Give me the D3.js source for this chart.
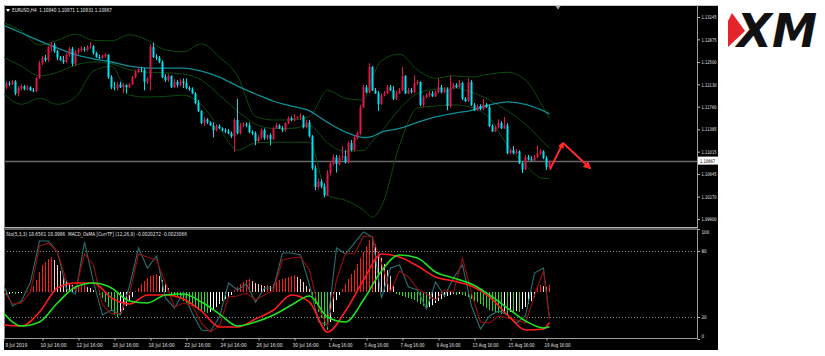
<!DOCTYPE html>
<html><head><meta charset="utf-8">
<script src="https://cdn.jsdelivr.net/npm/d3@7"></script>
<style>html,body{margin:0;padding:0;background:#fff;}svg{display:block;font-family:"DejaVu Sans",sans-serif;}text{white-space:pre;}</style>
</head><body><svg id="c" width="825" height="356"></svg>
<script>
// ---------------- DATA ----------------
const symbolHeader = "EURUSD,H4  1.10840 1.10871 1.10831 1.10867";
const subHeader = "Sto(5,3,3) 18.6561 18.0986  MACD_OsMA [CurrTF] (12,26,9) -0.0020272 -0.0023066";
const lastPrice = 1.10867;
const priceTicks = [1.13245,1.12875,1.12500,1.12130,1.11760,1.11385,1.11015,1.10645,1.10270,1.09900];
const stochTicks = [100,80,20,0];
const stochLevels = [80,20];
const dateTickBars = [0,13,25,37,49,61,73,85,97,109,121,133,145,157,169,181];
const dateLabels = ["8 Jul 2019","10 Jul 16:00","12 Jul 16:00","16 Jul 16:00","18 Jul 16:00","22 Jul 16:00","24 Jul 16:00","26 Jul 16:00","30 Jul 16:00","1 Aug 16:00","5 Aug 16:00","7 Aug 16:00","9 Aug 16:00","13 Aug 16:00","15 Aug 16:00","19 Aug 16:00"];

const open = [1.1223,1.1208,1.1215,1.1213,1.1218,1.1198,1.1207,1.1210,1.1205,1.1208,
1.1203,1.1202,1.1223,1.1248,1.1257,1.1253,1.1275,1.1278,1.1268,1.1257,
1.1253,1.1250,1.1262,1.1272,1.1247,1.1267,1.1270,1.1272,1.1270,1.1275,
1.1276,1.1265,1.1258,1.1257,1.1260,1.1262,1.1225,1.1208,1.1207,1.1213,
1.1208,1.1212,1.1208,1.1213,1.1225,1.1233,1.1238,1.1237,1.1217,1.1223,
1.1275,1.1258,1.1257,1.1250,1.1225,1.1220,1.1227,1.1208,1.1217,1.1212,
1.1218,1.1215,1.1207,1.1205,1.1198,1.1182,1.1169,1.1149,1.1155,1.1150,
1.1145,1.1137,1.1144,1.1140,1.1137,1.1135,1.1132,1.1127,1.1154,1.1132,
1.1145,1.1147,1.1145,1.1134,1.1132,1.1119,1.1125,1.1137,1.1124,1.1129,
1.1122,1.1140,1.1145,1.1140,1.1137,1.1149,1.1157,1.1154,1.1157,1.1159,
1.1160,1.1142,1.1150,1.1127,1.1074,1.1043,1.1052,1.1044,1.1029,1.1066,
1.1082,1.1092,1.1081,1.1092,1.1094,1.1084,1.1116,1.1104,1.1125,1.1132,
1.1175,1.1208,1.1200,1.1242,1.1203,1.1198,1.1180,1.1195,1.1198,1.1208,
1.1203,1.1189,1.1198,1.1203,1.1227,1.1198,1.1203,1.1200,1.1215,1.1217,
1.1179,1.1192,1.1195,1.1198,1.1193,1.1200,1.1208,1.1200,1.1205,1.1177,
1.1207,1.1212,1.1208,1.1215,1.1189,1.1185,1.1217,1.1179,1.1170,1.1177,
1.1172,1.1179,1.1175,1.1144,1.1135,1.1142,1.1149,1.1140,1.1145,1.1099,
1.1104,1.1099,1.1102,1.1082,1.1072,1.1092,1.1089,1.1087,1.1092,1.1099,
1.1102,1.1091,1.1076];
const high = [1.1227,1.1218,1.1218,1.1220,1.1220,1.1210,1.1213,1.1212,1.1212,1.1210,
1.1207,1.1225,1.1252,1.1260,1.1262,1.1276,1.1283,1.1282,1.1270,1.1260,
1.1260,1.1265,1.1275,1.1275,1.1270,1.1273,1.1276,1.1275,1.1278,1.1283,
1.1278,1.1267,1.1262,1.1262,1.1265,1.1263,1.1228,1.1217,1.1217,1.1217,
1.1215,1.1213,1.1215,1.1227,1.1237,1.1242,1.1242,1.1240,1.1225,1.1280,
1.1282,1.1263,1.1260,1.1253,1.1230,1.1230,1.1228,1.1222,1.1220,1.1222,
1.1223,1.1223,1.1210,1.1208,1.1200,1.1187,1.1170,1.1159,1.1157,1.1152,
1.1150,1.1147,1.1147,1.1142,1.1140,1.1139,1.1135,1.1157,1.1189,1.1149,
1.1150,1.1150,1.1150,1.1137,1.1135,1.1129,1.1140,1.1140,1.1130,1.1132,
1.1142,1.1149,1.1147,1.1144,1.1150,1.1160,1.1160,1.1164,1.1160,1.1165,
1.1162,1.1154,1.1154,1.1129,1.1079,1.1057,1.1056,1.1049,1.1071,1.1086,
1.1097,1.1096,1.1096,1.1111,1.1104,1.1119,1.1121,1.1129,1.1135,1.1179,
1.1212,1.1212,1.1248,1.1243,1.1207,1.1202,1.1198,1.1202,1.1212,1.1212,
1.1210,1.1202,1.1207,1.1242,1.1228,1.1207,1.1207,1.1228,1.1220,1.1218,
1.1195,1.1198,1.1202,1.1202,1.1203,1.1223,1.1212,1.1208,1.1208,1.1228,
1.1215,1.1215,1.1220,1.1217,1.1192,1.1223,1.1220,1.1182,1.1180,1.1180,
1.1189,1.1182,1.1179,1.1147,1.1145,1.1155,1.1152,1.1159,1.1149,1.1107,
1.1111,1.1106,1.1104,1.1086,1.1096,1.1096,1.1094,1.1096,1.1112,1.1106,
1.1104,1.1094,1.1087];
const low = [1.1207,1.1205,1.1210,1.1212,1.1195,1.1193,1.1203,1.1203,1.1203,1.1202,
1.1200,1.1200,1.1222,1.1245,1.1250,1.1250,1.1267,1.1265,1.1253,1.1252,
1.1247,1.1248,1.1258,1.1243,1.1243,1.1263,1.1267,1.1267,1.1268,1.1272,
1.1262,1.1257,1.1255,1.1255,1.1257,1.1222,1.1205,1.1203,1.1203,1.1207,
1.1198,1.1198,1.1207,1.1212,1.1223,1.1232,1.1233,1.1203,1.1213,1.1203,
1.1257,1.1253,1.1248,1.1223,1.1217,1.1217,1.1207,1.1207,1.1208,1.1210,
1.1207,1.1205,1.1202,1.1197,1.1180,1.1167,1.1147,1.1144,1.1147,1.1144,
1.1125,1.1135,1.1139,1.1135,1.1132,1.1130,1.1124,1.1101,1.1130,1.1130,
1.1142,1.1142,1.1132,1.1129,1.1112,1.1117,1.1122,1.1121,1.1121,1.1112,
1.1121,1.1139,1.1139,1.1134,1.1135,1.1147,1.1152,1.1152,1.1155,1.1154,
1.1140,1.1140,1.1125,1.1071,1.1038,1.1039,1.1041,1.1026,1.1028,1.1062,
1.1079,1.1067,1.1079,1.1087,1.1082,1.1082,1.1102,1.1102,1.1122,1.1129,
1.1174,1.1198,1.1198,1.1202,1.1197,1.1169,1.1179,1.1193,1.1197,1.1202,
1.1187,1.1187,1.1197,1.1202,1.1197,1.1197,1.1198,1.1198,1.1212,1.1177,
1.1175,1.1190,1.1192,1.1192,1.1192,1.1198,1.1198,1.1198,1.1170,1.1174,
1.1205,1.1207,1.1207,1.1187,1.1184,1.1184,1.1177,1.1169,1.1169,1.1170,
1.1170,1.1174,1.1142,1.1134,1.1134,1.1140,1.1139,1.1139,1.1097,1.1097,
1.1097,1.1097,1.1081,1.1066,1.1071,1.1087,1.1086,1.1086,1.1091,1.1096,
1.1089,1.1071,1.1074];
const close = [1.1208,1.1215,1.1213,1.1218,1.1198,1.1207,1.1210,1.1205,1.1208,1.1203,
1.1202,1.1223,1.1248,1.1257,1.1253,1.1275,1.1278,1.1268,1.1257,1.1253,
1.1250,1.1262,1.1272,1.1247,1.1267,1.1270,1.1272,1.1270,1.1275,1.1276,
1.1265,1.1258,1.1257,1.1260,1.1262,1.1225,1.1208,1.1207,1.1213,1.1208,
1.1212,1.1208,1.1213,1.1225,1.1233,1.1238,1.1237,1.1217,1.1223,1.1275,
1.1258,1.1257,1.1250,1.1225,1.1220,1.1227,1.1208,1.1217,1.1212,1.1218,
1.1215,1.1207,1.1205,1.1198,1.1182,1.1169,1.1149,1.1155,1.1150,1.1145,
1.1137,1.1144,1.1140,1.1137,1.1135,1.1132,1.1127,1.1154,1.1132,1.1145,
1.1147,1.1145,1.1134,1.1132,1.1119,1.1125,1.1137,1.1124,1.1129,1.1122,
1.1140,1.1145,1.1140,1.1137,1.1149,1.1157,1.1154,1.1157,1.1159,1.1160,
1.1142,1.1150,1.1127,1.1074,1.1043,1.1052,1.1044,1.1029,1.1066,1.1082,
1.1092,1.1081,1.1092,1.1094,1.1084,1.1116,1.1104,1.1125,1.1132,1.1175,
1.1208,1.1200,1.1242,1.1203,1.1198,1.1180,1.1195,1.1198,1.1208,1.1203,
1.1189,1.1198,1.1203,1.1227,1.1198,1.1203,1.1200,1.1215,1.1217,1.1179,
1.1192,1.1195,1.1198,1.1193,1.1200,1.1208,1.1200,1.1205,1.1177,1.1207,
1.1212,1.1208,1.1215,1.1189,1.1185,1.1217,1.1179,1.1170,1.1177,1.1172,
1.1179,1.1175,1.1144,1.1135,1.1142,1.1149,1.1140,1.1145,1.1099,1.1104,
1.1099,1.1102,1.1082,1.1072,1.1092,1.1089,1.1087,1.1092,1.1099,1.1102,
1.1091,1.1076,1.10867];

// Bollinger bands + moving average, read at these bar indices
const bandBars = [0,6,12,18,24,30,36,42,48,54,60,66,72,78,84,90,96,102,108,114,120,123,126,132,138,144,150,156,162,168,174,180,182];
const bbUpper = [1.1315,1.1301,1.1278,1.1286,1.1296,1.1286,1.1285,1.1295,1.1286,1.1270,1.1267,1.1280,1.1258,1.1227,1.1160,1.1154,1.1154,1.1160,1.1203,1.1190,1.1187,1.1225,1.1252,1.1263,1.1237,1.1223,1.1227,1.1225,1.1230,1.1233,1.1220,1.1174,1.1157];
const bbMiddle = [1.1258,1.1243,1.1227,1.1233,1.1245,1.1250,1.1247,1.1237,1.1233,1.1232,1.1230,1.1220,1.1195,1.1169,1.1147,1.1140,1.1140,1.1145,1.1116,1.1102,1.1104,1.1119,1.1135,1.1172,1.1198,1.1205,1.1207,1.1200,1.1187,1.1169,1.1147,1.1117,1.1107];
const bbLower = [1.1198,1.1180,1.1190,1.1180,1.1192,1.1235,1.1243,1.1195,1.1192,1.1193,1.1195,1.1179,1.1140,1.1104,1.1116,1.1117,1.1117,1.1117,1.1029,1.1021,1.1005,1.0993,1.1011,1.1112,1.1174,1.1177,1.1179,1.1175,1.1157,1.1112,1.1079,1.1057,1.1057];
const maLine = [1.1311,1.1298,1.1285,1.1273,1.1262,1.1255,1.1250,1.1243,1.1240,1.1240,1.1240,1.1235,1.1225,1.1210,1.1197,1.1185,1.1177,1.1169,1.1150,1.1134,1.1125,1.1127,1.1134,1.1140,1.1150,1.1159,1.1165,1.1170,1.1179,1.1184,1.1180,1.1169,1.1164];

// forecast arrow [bar, price]
const arrowPts = [[182.3,1.1072],[186.7,1.1116],[195.7,1.1074]];

// Stochastic (read every 3 bars, plus last bar)
const stochBars = d3.range(0,181,3).concat([182]);
const stochK = [49.1,30.0,34.5,51.8,89.1,89.1,79.1,45.5,40.9,88.2,51.8,21.8,26.4,21.8,48.2,82.7,64.5,75.5,37.3,28.2,42.7,22.7,8.2,7.3,20.0,50.9,44.5,50.0,33.6,46.4,46.4,78.2,78.2,76.4,49.1,15.5,12.7,82.7,77.3,87.3,97.3,92.7,37.3,64.5,67.3,47.3,44.5,27.3,51.8,39.1,55.5,67.3,30.0,9.1,20.9,25.5,21.8,14.5,20.9,60.0,64.5,18.7];
const stochD = [43.6,31.8,32.7,42.7,84.5,87.3,79.1,52.7,44.5,77.3,67.3,30.9,22.7,23.6,40.9,77.3,74.5,71.8,50.9,29.1,32.7,30.0,14.5,6.4,11.8,38.2,39.1,41.8,35.5,40.0,44.5,71.8,73.6,74.5,62.7,28.2,11.8,53.6,78.2,77.3,93.6,92.7,69.1,42.7,61.8,56.4,45.5,40.9,35.5,44.5,42.7,73.6,41.8,15.5,14.5,20.9,19.1,17.3,14.5,40.0,61.8,18.1];

// MACD main / signal (read every 6 bars, plus last bar)
const macdBars = d3.range(0,181,6).concat([182]);
const macdMain = [-0.00220,-0.00227,-0.00133,0.00027,0.00060,0.00060,-0.00040,-0.00080,-0.00020,-0.00020,-0.00047,-0.00127,-0.00233,-0.00233,-0.00180,-0.00120,-0.00020,-0.00067,-0.00267,-0.00127,0.00080,0.00253,0.00233,0.00173,0.00100,0.00073,0.00040,-0.00033,-0.00153,-0.00253,-0.00247,-0.00203];
const macdSignal = [-0.00140,-0.00227,-0.00200,-0.00073,0.00033,0.00060,0.00027,-0.00060,-0.00073,-0.00020,-0.00013,-0.00067,-0.00147,-0.00227,-0.00200,-0.00153,-0.00087,-0.00027,-0.00167,-0.00200,-0.00053,0.00140,0.00247,0.00227,0.00133,0.00093,0.00053,-0.00020,-0.00107,-0.00193,-0.00240,-0.00231];

// OsMA histogram, one per bar
const osma = [-0.00013,-0.00020,-0.00013,-0.00007,-0.00013,-0.00007,-0.00007,0.00003,0.00007,0.00020,
0.00040,0.00080,0.00133,0.00180,0.00200,0.00220,0.00233,0.00213,0.00180,0.00140,
0.00107,0.00080,0.00060,0.00047,0.00040,0.00043,0.00047,0.00048,0.00033,0.00027,
0.00013,-0.00007,-0.00020,-0.00040,-0.00067,-0.00100,-0.00127,-0.00153,-0.00167,-0.00147,
-0.00120,-0.00093,-0.00060,-0.00033,0.00007,0.00027,0.00053,0.00073,0.00093,0.00107,
0.00113,0.00120,0.00107,0.00080,0.00053,0.00027,-0.00013,-0.00027,-0.00033,-0.00047,
-0.00060,-0.00073,-0.00080,-0.00093,-0.00107,-0.00120,-0.00127,-0.00133,-0.00140,-0.00133,
-0.00120,-0.00100,-0.00080,-0.00060,-0.00047,-0.00033,-0.00020,0.00013,0.00033,0.00053,
0.00067,0.00080,0.00087,0.00073,0.00060,0.00053,0.00047,0.00040,0.00047,0.00040,
0.00053,0.00067,0.00080,0.00087,0.00093,0.00100,0.00107,0.00113,0.00100,0.00087,
0.00067,0.00040,0.00020,-0.00027,-0.00080,-0.00133,-0.00173,-0.00227,-0.00253,-0.00200,
-0.00133,-0.00053,-0.00020,0.00020,0.00053,0.00087,0.00120,0.00147,0.00187,0.00227,
0.00267,0.00307,0.00347,0.00373,0.00320,0.00267,0.00227,0.00187,0.00147,0.00107,
0.00040,-0.00013,-0.00020,-0.00027,-0.00033,-0.00040,-0.00047,-0.00053,-0.00067,-0.00080,
-0.00093,-0.00107,-0.00100,-0.00087,-0.00073,-0.00060,-0.00047,-0.00033,-0.00027,-0.00020,
-0.00013,-0.00020,-0.00013,-0.00020,-0.00027,-0.00033,-0.00047,-0.00060,-0.00067,-0.00080,
-0.00093,-0.00107,-0.00120,-0.00127,-0.00133,-0.00140,-0.00147,-0.00140,-0.00147,-0.00133,
-0.00140,-0.00127,-0.00133,-0.00113,-0.00100,-0.00080,-0.00060,-0.00033,0.00040,0.00047,
0.00040,0.00033,0.00047];

// ---------------- STYLE ----------------
const C = {
  bull:"#e0164a", bear:"#00e1ee", bb:"#0b4a0e", ma:"#0f8d97",
  stK:"#2b6e70", stD:"#9a0c0c", macd:"#ff1c1c", sig:"#1fe11f",
  hUpR:"#ff1a1a", hUpF:"#ffc4cc", hDnF:"#22dd22", hDnR:"#ffffff",
  text:"#e6e6e6", frame:"#9a9a9a"
};

// ---------------- DRAW ----------------
const svg = d3.select("#c");
const L = 4, R = 697, mainTop = 6, mainBot = 227, subTop = 230, subBot = 338;

svg.append("rect").attr("width",825).attr("height",356).attr("fill","#fff");
svg.append("rect").attr("x",4).attr("y",5).attr("width",714).attr("height",345).attr("fill","#000");

const x = d3.scaleLinear().domain([0,1]).range([3,6]);
const yP = d3.scaleLinear().domain([1.09900,1.13245]).range([219,17]);
const yS = d3.scaleLinear().domain([0,100]).range([339,229]);
const yM = d3.scaleLinear().domain([0,0.001]).range([292,277]);

const defs = svg.append("defs");
defs.append("clipPath").attr("id","cm").append("rect").attr("x",L).attr("y",mainTop).attr("width",R-L).attr("height",mainBot-mainTop);
defs.append("clipPath").attr("id","cs").append("rect").attr("x",L).attr("y",subTop).attr("width",R-L).attr("height",subBot-subTop);
defs.append("marker").attr("id","ah1").attr("viewBox","0 0 10 10").attr("refX",8).attr("refY",5)
  .attr("markerWidth",3.2).attr("markerHeight",3.2).attr("orient","auto")
  .append("path").attr("d","M0,0 L10,5 L0,10 z").attr("fill","#ff2b2b");
defs.append("marker").attr("id","ah2").attr("viewBox","0 0 10 10").attr("refX",8).attr("refY",5)
  .attr("markerWidth",4.2).attr("markerHeight",4).attr("orient","auto")
  .append("path").attr("d","M0,0 L10,5 L0,10 z").attr("fill","#ff2b2b");

// frame lines
svg.append("line").attr("x1",4).attr("x2",718).attr("y1",5.5).attr("y2",5.5).attr("stroke","#c8c8c8");
svg.append("line").attr("x1",4.5).attr("x2",4.5).attr("y1",5).attr("y2",339).attr("stroke","#8a8a8a");
svg.append("line").attr("x1",R+0.5).attr("x2",R+0.5).attr("y1",5).attr("y2",subBot+0.5).attr("stroke",C.frame);
svg.append("rect").attr("x",4).attr("y",227).attr("width",R-4+1).attr("height",3).attr("fill","#5c5c5c");
svg.append("line").attr("x1",4).attr("x2",R+1).attr("y1",227.5).attr("y2",227.5).attr("stroke","#b0b0b0");
svg.append("line").attr("x1",4).attr("x2",R+1).attr("y1",subBot+0.5).attr("y2",subBot+0.5).attr("stroke",C.frame);

// ---- main pane ----
const gm = svg.append("g").attr("clip-path","url(#cm)");

// current price line
gm.append("line").attr("x1",L).attr("x2",R).attr("y1",Math.round(yP(lastPrice))+0.5).attr("y2",Math.round(yP(lastPrice))+0.5)
  .attr("stroke","#6a6a6a").attr("stroke-width",1.4);

const pts = arr => bandBars.map((b,i)=>[b,arr[i]]);
const lineP = d3.line().x(d=>x(d[0])+0.5).y(d=>yP(d[1])).curve(d3.curveMonotoneX);
[bbUpper,bbMiddle,bbLower].forEach(a=>{
  gm.append("path").attr("d",lineP(pts(a))).attr("fill","none").attr("stroke",C.bb).attr("stroke-width",1);
});
gm.append("path").attr("d",lineP(pts(maLine))).attr("fill","none").attr("stroke",C.ma).attr("stroke-width",1.3);

const candles = close.map((c,i)=>({i,o:open[i],h:high[i],l:low[i],c}));
const col = d=> d.c>=d.o ? C.bull : C.bear;
gm.selectAll("rect.wick").data(candles).join("rect").attr("class","wick")
  .attr("x",d=>x(d.i)).attr("width",1)
  .attr("y",d=>yP(d.h)).attr("height",d=>Math.max(1,yP(d.l)-yP(d.h))).attr("fill",col);
gm.selectAll("rect.body").data(candles).join("rect").attr("class","body")
  .attr("x",d=>x(d.i)-0.5).attr("width",2)
  .attr("y",d=>Math.min(yP(d.o),yP(d.c))).attr("height",d=>Math.max(1,Math.abs(yP(d.o)-yP(d.c)))).attr("fill",col);

// forecast arrows
const ap = arrowPts.map(p=>[x(p[0]),yP(p[1])]);
gm.append("line").attr("x1",ap[0][0]).attr("y1",ap[0][1]).attr("x2",ap[1][0]).attr("y2",ap[1][1])
  .attr("stroke","#ff2b2b").attr("stroke-width",2).attr("marker-end","url(#ah1)");
gm.append("line").attr("x1",ap[1][0]).attr("y1",ap[1][1]).attr("x2",ap[2][0]).attr("y2",ap[2][1])
  .attr("stroke","#ff2b2b").attr("stroke-width",2).attr("marker-end","url(#ah2)");

// shift marker
const sx = x(185);
svg.append("path").attr("d",`M${sx-2.5},6 L${sx+2.5},6 L${sx},9.5 Z`).attr("fill","#9aa4b0");

// header
svg.append("path").attr("d","M6,9 L10,9 L8,12 Z").attr("fill","#fff");
svg.append("text").attr("x",12).attr("y",12.2).attr("font-size",5.6).attr("fill",C.text)
  .attr("textLength",100).attr("lengthAdjust","spacingAndGlyphs").text(symbolHeader);

// price axis
const pa = svg.append("g").attr("transform",`translate(${R+0.5},0)`)
  .call(d3.axisRight(yP).tickValues(priceTicks).tickFormat(d3.format(".5f")).tickSize(2.5).tickPadding(1.5));
pa.attr("font-size",5.2).attr("font-family","DejaVu Sans, sans-serif");
pa.select(".domain").remove();
pa.selectAll("line").attr("stroke","#bbb");
pa.selectAll("text").attr("fill",C.text).attr("textLength",15).attr("lengthAdjust","spacingAndGlyphs");

// current price tag
const ly = yP(lastPrice);
svg.append("rect").attr("x",R+1).attr("y",ly-4).attr("width",20).attr("height",8).attr("fill","#fff");
svg.append("text").attr("x",R+3).attr("y",ly+2).attr("font-size",5.2).attr("fill","#000")
  .attr("textLength",15).attr("lengthAdjust","spacingAndGlyphs").text(d3.format(".5f")(lastPrice));

// ---- sub pane ----
const gs = svg.append("g").attr("clip-path","url(#cs)");
stochLevels.forEach(v=>{
  gs.append("line").attr("x1",L).attr("x2",R).attr("y1",Math.round(yS(v))+0.5).attr("y2",Math.round(yS(v))+0.5)
    .attr("stroke","#8c8c8c").attr("stroke-dasharray","1,2");
});
const hcol = (v,i)=>{
  const p = i>0 ? osma[i-1] : v;
  if (v>=0) return v>p ? C.hUpR : C.hUpF;
  return v<p ? C.hDnF : C.hDnR;
};
gs.selectAll("rect.h").data(osma).join("rect").attr("class","h")
  .attr("x",(d,i)=>x(i)).attr("width",1)
  .attr("y",d=>Math.min(yM(0),yM(d))).attr("height",d=>Math.max(0.5,Math.abs(yM(d)-yM(0))))
  .attr("fill",(d,i)=>hcol(d,i));

const lineS = d3.line().x(d=>x(d[0])+0.5).y(d=>yS(d[1]));
gs.append("path").attr("d",lineS(stochBars.map((b,i)=>[b,stochK[i]]))).attr("fill","none").attr("stroke",C.stK).attr("stroke-width",1.1);
gs.append("path").attr("d",lineS(stochBars.map((b,i)=>[b,stochD[i]]))).attr("fill","none").attr("stroke",C.stD).attr("stroke-width",1.1);
const lineM = d3.line().x(d=>x(d[0])+0.5).y(d=>yM(d[1])).curve(d3.curveMonotoneX);
gs.append("path").attr("d",lineM(macdBars.map((b,i)=>[b,macdMain[i]]))).attr("fill","none").attr("stroke",C.macd).attr("stroke-width",1.6);
gs.append("path").attr("d",lineM(macdBars.map((b,i)=>[b,macdSignal[i]]))).attr("fill","none").attr("stroke",C.sig).attr("stroke-width",1.6);

svg.append("text").attr("x",6).attr("y",236).attr("font-size",5.6).attr("fill",C.text)
  .attr("textLength",181).attr("lengthAdjust","spacingAndGlyphs").text(subHeader);

// stochastic axis
const sa = svg.append("g").attr("transform",`translate(${R+0.5},0)`)
  .call(d3.axisRight(yS).tickValues(stochTicks).tickFormat(d3.format("d")).tickSize(2.5).tickPadding(1.5));
sa.attr("font-size",5.2).attr("font-family","DejaVu Sans, sans-serif");
sa.select(".domain").remove();
sa.selectAll("line").attr("stroke","#bbb");
sa.selectAll("text").attr("fill",C.text)
  .attr("y",d=> d===100?3 : d===0?-3 : 0)
  .attr("textLength",d=>String(d).length*2.6).attr("lengthAdjust","spacingAndGlyphs");

// time axis
const ta = svg.append("g").attr("transform",`translate(0,${subBot+0.5})`)
  .call(d3.axisBottom(x).tickValues(dateTickBars).tickFormat((d,i)=>dateLabels[i]).tickSize(2).tickPadding(1));
ta.attr("font-size",5.4).attr("font-family","DejaVu Sans, sans-serif");
ta.select(".domain").remove();
ta.selectAll("line").attr("stroke","#bbb").attr("transform","translate(0.5,0)");
ta.selectAll("text").attr("fill",C.text).attr("text-anchor","start")
  .attr("x",d=> Math.max(4.5 - x(d) + 0.5, -2)).attr("dy","0.95em")
  .attr("textLength",(d,i)=>dateLabels[i].length*2.17).attr("lengthAdjust","spacingAndGlyphs");

// XM logo
svg.append("polygon").attr("points","732,13 745,31 728,47 728,21").attr("fill","#e3242b");
svg.append("text").attr("x",737).attr("y",47).attr("font-size",46).attr("font-weight","bold").attr("font-style","italic")
  .attr("fill","#111").attr("textLength",80).attr("lengthAdjust","spacingAndGlyphs").text("XM");
</script></body></html>
